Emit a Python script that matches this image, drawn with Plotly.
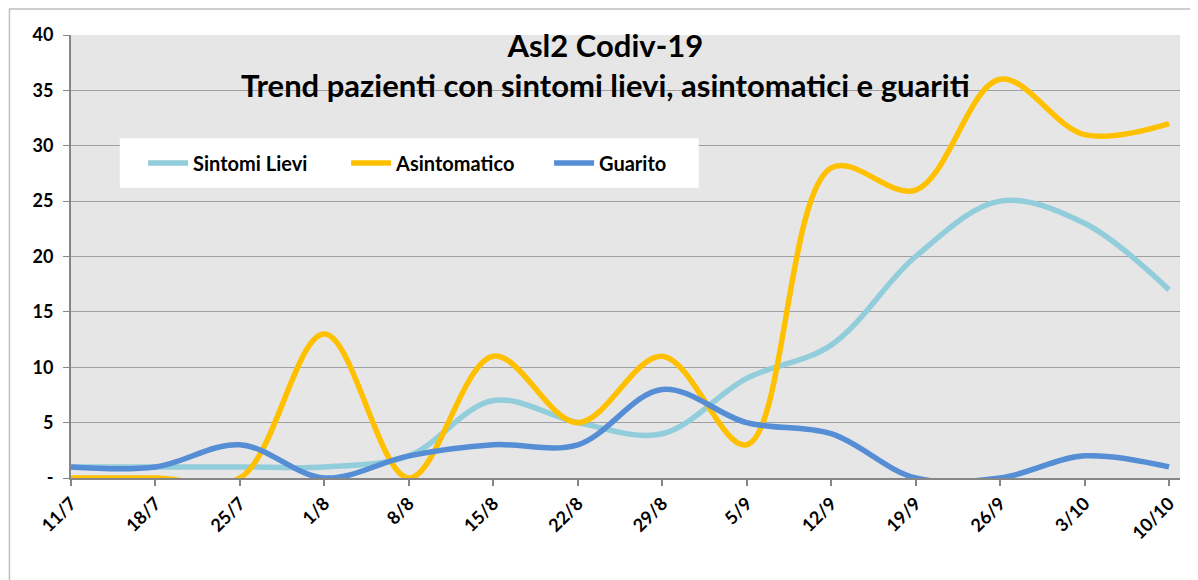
import plotly.graph_objects as go

# Data
dates = ['11/7', '18/7', '25/7', '1/8', '8/8', '15/8', '22/8', '29/8',
         '5/9', '12/9', '19/9', '26/9', '3/10', '10/10']
sintomi_lievi = [1, 1, 1, 1, 2, 7, 5, 4, 9, 12, 20, 25, 23, 17]
asintomatico = [0, 0, 0, 13, 0, 11, 5, 11, 3, 28, 26, 36, 31, 32]
guarito = [1, 1, 3, 0, 2, 3, 3, 8, 5, 4, 0, 0, 2, 1]

y_ticks = [0, 5, 10, 15, 20, 25, 30, 35, 40]
y_labels = ['-', '5', '10', '15', '20', '25', '30', '35', '40']

x = list(range(len(dates)))
fnt = 'Lato'

fig = go.Figure()
series = [('Sintomi Lievi', sintomi_lievi, '#92CDDC'),
          ('Asintomatico', asintomatico, '#FFC000'),
          ('Guarito', guarito, '#558ED5')]
for name, vals, col in series:
    fig.add_trace(go.Scatter(x=x, y=vals, name=name, mode='lines',
                             line=dict(color=col, width=5.5, shape='spline', smoothing=1.0)))

# chart area border (Excel style), page body already adds 8px offset
fig.add_shape(type='rect', xref='paper', yref='paper', x0=-0.0555, x1=1.1, y0=-0.5, y1=1.0587,
              line=dict(color='#BFBFBF', width=1.5), layer='below')
# legend box
fig.add_shape(type='rect', xref='paper', yref='paper', x0=0.044, x1=0.566, y0=0.655, y1=0.767,
              fillcolor='white', line=dict(width=0), layer='above')

fig.add_annotation(xref='paper', yref='paper', x=0.482, y=1.025, yanchor='top', showarrow=False,
                   text='<b>Asl2 Codiv-19<br>Trend pazienti con sintomi lievi, asintomatici e guariti</b>',
                   font=dict(family=fnt, size=31, color='black'))

fig.update_layout(
    width=1190, height=572,
    margin=dict(l=63, r=18, t=27, b=102),
    paper_bgcolor='white', plot_bgcolor='#E6E6E6',
    font=dict(family=fnt, size=16, color='black'),
    showlegend=True,
    legend=dict(orientation='h', x=0.065, y=0.711, xanchor='left', yanchor='middle',
                bgcolor='rgba(0,0,0,0)', font=dict(family=fnt, size=20, color='black', weight='bold'),
                itemwidth=40, entrywidth=148),
)
fig.update_xaxes(range=[0, 13.13], tickvals=x, ticktext=['<b>%s</b>' % d for d in dates],
                 tickangle=-45, showgrid=False, showline=True, linecolor='#868686', linewidth=2,
                 ticks='outside', ticklen=6, tickcolor='#868686', tickwidth=1.5, zeroline=False,
                 tickfont=dict(size=18), automargin=False)
fig.update_yaxes(range=[0, 40], tickvals=y_ticks, ticktext=['<b>%s</b>' % t for t in y_labels],
                 showgrid=True, gridcolor='#A0A0A0', gridwidth=1.2, showline=True,
                 linecolor='#868686', linewidth=2, ticks='outside', ticklen=6, tickcolor='#868686',
                 zeroline=False, tickfont=dict(size=18), ticklabelstandoff=6, automargin=False)

fig.write_html('out.html')
